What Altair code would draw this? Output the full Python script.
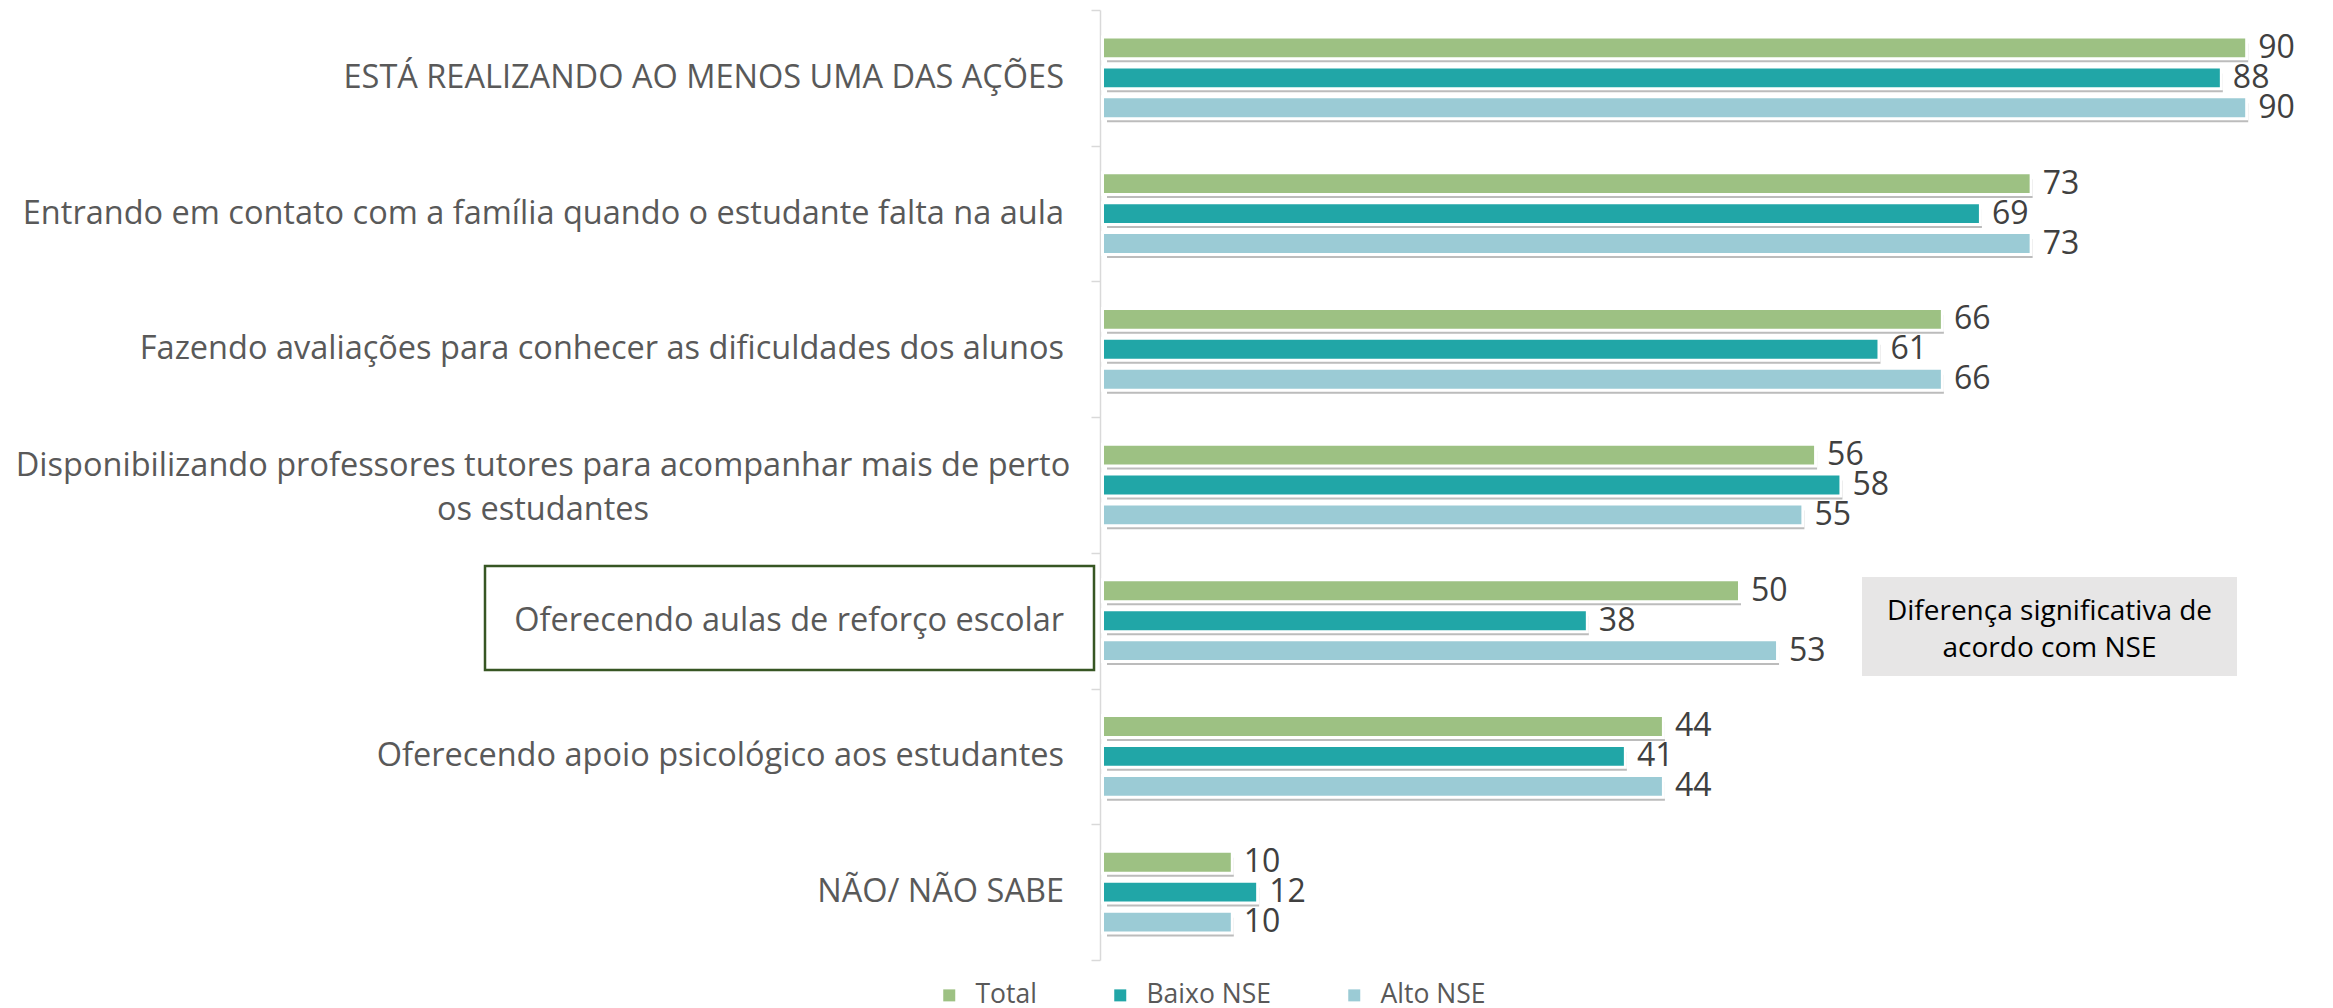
import altair as alt
import pandas as pd

# ---------------- data ----------------
categories = [
    "ESTÁ REALIZANDO AO MENOS UMA DAS AÇÕES",
    "Entrando em contato com a família quando o estudante falta na aula",
    "Fazendo avaliações para conhecer as dificuldades dos alunos",
    "Disponibilizando professores tutores para acompanhar mais de perto os estudantes",
    "Oferecendo aulas de reforço escolar",
    "Oferecendo apoio psicológico aos estudantes",
    "NÃO/ NÃO SABE",
]
series = ["Total", "Baixo NSE", "Alto NSE"]
total = [90, 73, 66, 56, 50, 44, 10]
baixo = [88, 69, 61, 58, 38, 41, 12]
alto = [90, 73, 66, 55, 53, 44, 10]
wrapped_category = categories[3]
wrapped_lines = ["Disponibilizando professores tutores para acompanhar mais de perto", "os estudantes"]
note_lines = ["Diferença significativa de", "acordo com NSE"]

colors = ["#9DC183", "#21A6A7", "#9BCBD5"]

rows = []
for i, c in enumerate(categories):
    for s, vals in zip(series, [total, baixo, alto]):
        rows.append({"category": c, "series": s, "value": vals[i]})
df = pd.DataFrame(rows)

single_df = pd.DataFrame({"category": [c for c in categories if c != wrapped_category]})
wrapped_df = pd.DataFrame({"category": [wrapped_category], "label": [wrapped_lines]})
note_df = pd.DataFrame({"note": [note_lines]})
box_df = pd.DataFrame({"k": [0]})

# ---------------- layout ----------------
W, H = 1222, 950
PX = 12.68
XMAX = 96
FONT = "Open Sans"

x_main = alt.Scale(domain=[0, XMAX], range=[4, 4 + XMAX * PX], nice=False, zero=True)
x_shadow = alt.Scale(domain=[0, XMAX], range=[7, 7 + XMAX * PX], nice=False, zero=True)
y_main = alt.Scale(domain=categories, paddingInner=0, paddingOuter=0)
y_shadow = alt.Scale(domain=categories, range=[5, H + 5], paddingInner=0, paddingOuter=0)
yoff_scale = alt.Scale(domain=series, paddingInner=0.37, paddingOuter=0.952)

y_axis = alt.Axis(
    labels=False, title=None, tickBand="extent", ticks=True, tickSize=9,
    tickColor="#d9d9d9", tickWidth=1.5, domainColor="#d9d9d9", domainWidth=1.5, grid=False,
)

shadow = alt.Chart(df).mark_bar(color="#7a7a7a", opacity=0.5).encode(
    x=alt.X("value:Q", scale=x_shadow, axis=None),
    y=alt.Y("category:N", scale=y_shadow, axis=None),
    yOffset=alt.YOffset("series:N", scale=yoff_scale),
)

halo = alt.Chart(df).mark_bar(color="white", stroke="white", strokeWidth=6).encode(
    x=alt.X("value:Q", scale=x_main, axis=None),
    y=alt.Y("category:N", scale=y_main, axis=y_axis),
    yOffset=alt.YOffset("series:N", scale=yoff_scale),
)

bars = alt.Chart(df).mark_bar().encode(
    x=alt.X("value:Q", scale=x_main, axis=None),
    y=alt.Y("category:N", scale=y_main, axis=y_axis),
    yOffset=alt.YOffset("series:N", scale=yoff_scale),
    color=alt.Color(
        "series:N",
        scale=alt.Scale(domain=series, range=colors),
        legend=alt.Legend(
            orient="none", legendX=-164, legendY=972, direction="horizontal", title=None,
            symbolType="square", symbolSize=144, symbolStrokeWidth=0,
            labelFont=FONT, labelFontSize=26.5, labelColor="#595959",
            columnPadding=70, labelOffset=13,
        ),
    ),
)

values = alt.Chart(df).mark_text(
    align="left", baseline="middle", dx=13, font=FONT, fontSize=32, color="#404040"
).encode(
    x=alt.X("value:Q", scale=x_main, axis=None),
    y=alt.Y("category:N", scale=y_main, axis=y_axis),
    yOffset=alt.YOffset("series:N", scale=yoff_scale),
    text=alt.Text("value:Q"),
)

labels_single = alt.Chart(single_df).mark_text(
    align="right", baseline="middle", font=FONT, fontSize=32.5, color="#595959"
).encode(
    x=alt.value(-36),
    y=alt.Y("category:N", scale=y_main, axis=y_axis),
    text="category:N",
)

labels_wrapped = alt.Chart(wrapped_df).mark_text(
    align="center", baseline="middle", font=FONT, fontSize=32.5, color="#595959",
    lineHeight=44, dy=-19,
).encode(
    x=alt.value(-557),
    y=alt.Y("category:N", scale=y_main, axis=y_axis),
    text="label",
)

highlight = alt.Chart(box_df).mark_rect(filled=False, stroke="#375623", strokeWidth=2.5).encode(
    x=alt.value(-615), x2=alt.value(-6), y=alt.value(556), y2=alt.value(660)
)

note_box = alt.Chart(box_df).mark_rect(color="#E7E6E6").encode(
    x=alt.value(762), x2=alt.value(1137), y=alt.value(567), y2=alt.value(666)
)

note_text = alt.Chart(note_df).mark_text(
    align="center", baseline="middle", font=FONT, fontSize=28, color="#000000",
    lineHeight=37, dy=-18,
).encode(
    x=alt.value(949.5), y=alt.value(620), text="note"
)

inner = alt.layer(halo, bars, values, labels_single, labels_wrapped, highlight, note_box, note_text)

chart = (
    alt.layer(shadow, inner)
    .resolve_scale(x="independent", y="independent")
    .properties(
        width=W, height=H,
        autosize=alt.AutoSizeParams(type="none"),
        padding={"left": 1092, "top": 2, "right": 3, "bottom": 50},
    )
    .configure_view(stroke=None)
)

chart.save("out.html", embed_options={"renderer": "svg", "actions": False})
